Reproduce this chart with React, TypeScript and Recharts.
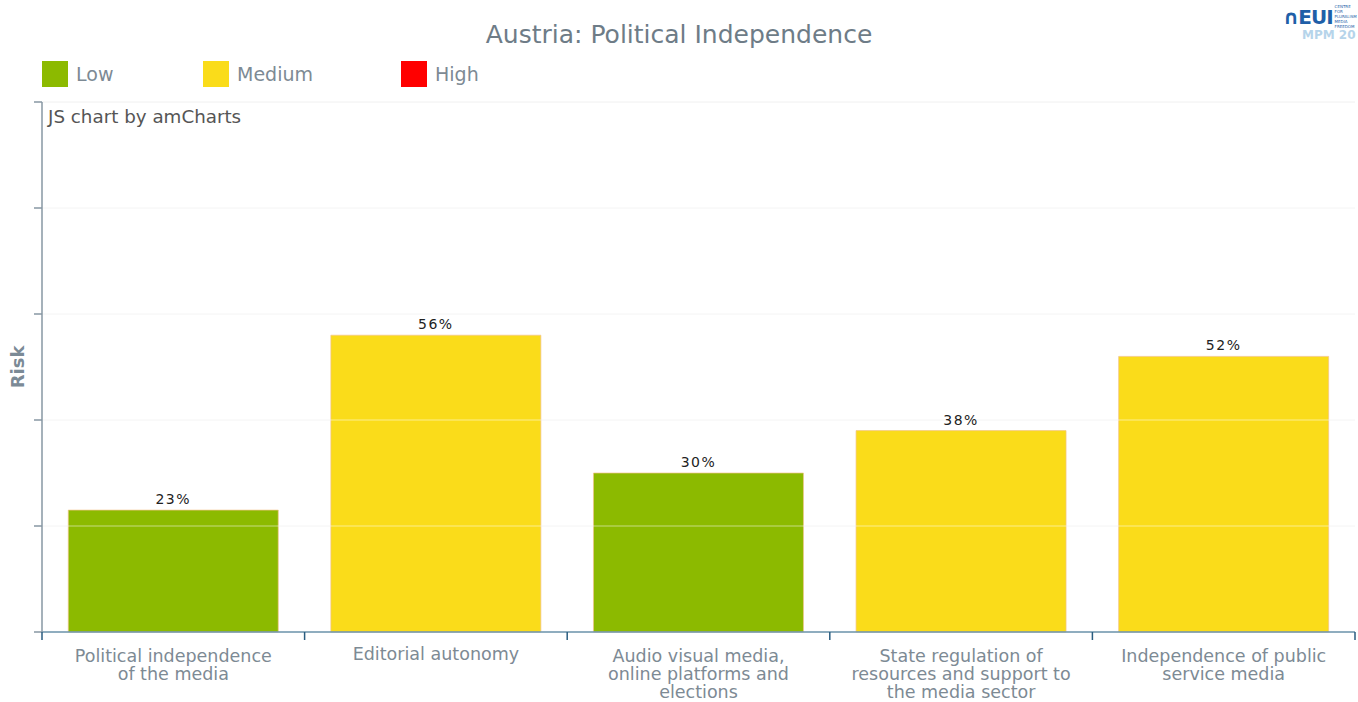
import { Bar, BarChart, CartesianGrid, Cell, LabelList, ReferenceLine, XAxis, YAxis } from 'recharts'

const categories = [
  'Political independence of the media',
  'Editorial autonomy',
  'Audio visual media, online platforms and elections',
  'State regulation of resources and support to the media sector',
  'Independence of public service media',
]
const labelLines = [
  ['Political independence', 'of the media'],
  ['Editorial autonomy'],
  ['Audio visual media,', 'online platforms and', 'elections'],
  ['State regulation of', 'resources and support to', 'the media sector'],
  ['Independence of public', 'service media'],
]
const riskValues = [23, 56, 30, 38, 52]
const riskLevels = ['Low', 'Medium', 'Low', 'Medium', 'Medium']
const legendItems = ['Low', 'Medium', 'High']
const yTicks = [0, 20, 40, 60, 80, 100]

const levelColor: Record<string, string> = {
  Low: '#8cba00',
  Medium: '#fadc1a',
  High: '#ff0000',
}

const data = categories.map((name, i) => ({
  name,
  lines: labelLines[i],
  value: riskValues[i],
  level: riskLevels[i],
}))

const W = 1358
const H = 702
const xAxisH = 70
const margin = { top: 102, right: 3, bottom: 0, left: 34 }
const yAxisW = 8
const band = (W - margin.left - yAxisW - margin.right) / categories.length
const font = '"DejaVu Sans", Verdana, sans-serif'

function CategoryTick(props: any) {
  const { x, y, index } = props
  const lines: string[] = data[index]?.lines ?? []
  const left = x - band / 2
  const right = x + band / 2
  const startY = lines.length === 1 ? y + 28 : y + 30
  return (
    <g>
      <line x1={left} y1={y} x2={left} y2={y + 8} stroke="#2a5d80" strokeWidth={1.5} />
      {index === categories.length - 1 && (
        <line x1={right} y1={y} x2={right} y2={y + 8} stroke="#2a5d80" strokeWidth={1.5} />
      )}
      <text x={x} y={startY} textAnchor="middle" fontSize={17.5} fill="#7d8a94" fontFamily={font}>
        {lines.map((l, i) => (
          <tspan key={i} x={x} dy={i === 0 ? 0 : 18}>
            {l}
          </tspan>
        ))}
      </text>
    </g>
  )
}

const legendX = [42, 203, 401]

export default function App() {
  return (
    <div style={{ position: 'absolute', left: 0, top: 0, width: W, height: H, overflow: 'hidden', background: '#fff', fontFamily: font }}>
      <div style={{ position: 'absolute', left: 0, width: W, top: 20, textAlign: 'center', fontSize: 25, color: '#6e7c87' }}>
        Austria: Political Independence
      </div>
      {legendItems.map((item, i) => (
        <div key={item} style={{ position: 'absolute', left: legendX[i], top: 61, height: 26, display: 'flex', alignItems: 'center' }}>
          <div style={{ width: 26, height: 26, background: levelColor[item] }} />
          <span style={{ marginLeft: 8, fontSize: 19, color: '#7d8a94' }}>{item}</span>
        </div>
      ))}
      <div style={{ position: 'absolute', left: 1283, top: 4, display: 'flex', alignItems: 'center' }}>
        <span style={{ fontSize: 20, fontWeight: 'bold', color: '#1f5fa8', lineHeight: '22px', letterSpacing: -1 }}>∩EUI</span>
        <span style={{ marginLeft: 2, fontSize: 4, color: '#1f5fa8', lineHeight: '5px', width: 22 }}>
          CENTRE FOR PLURALISM MEDIA FREEDOM
        </span>
      </div>
      <div
        style={{
          position: 'absolute',
          left: 1302,
          top: 28,
          fontSize: 12,
          fontWeight: 'bold',
          color: '#b6d4ea',
          lineHeight: '14px',
          whiteSpace: 'nowrap',
        }}
      >
        MPM 20
      </div>
      <div style={{ position: 'absolute', left: 48, top: 106, fontSize: 18.3, color: '#555' }}>JS chart by amCharts</div>
      <div
        style={{
          position: 'absolute',
          left: 17,
          top: 367,
          transform: 'translate(-50%, -50%) rotate(-90deg)',
          fontSize: 18,
          fontWeight: 'bold',
          color: '#7b8a96',
        }}
      >
        Risk
      </div>
      <BarChart width={W} height={H} data={data} margin={margin} barCategoryGap="10%">
        <CartesianGrid vertical={false} stroke="#f0f0f0" />
        <XAxis
          dataKey="name"
          interval={0}
          tickLine={false}
          tickSize={0}
          tickMargin={0}
          height={xAxisH}
          axisLine={{ stroke: '#6d94ad', strokeWidth: 1.5 }}
          tick={<CategoryTick />}
        />
        <YAxis
          domain={[0, 100]}
          ticks={yTicks}
          width={yAxisW}
          tickSize={8}
          tick={() => <g />}
          axisLine={{ stroke: '#8797a3', strokeWidth: 1.5 }}
          tickLine={{ stroke: '#8797a3', strokeWidth: 1.5 }}
        />
        <Bar dataKey="value" isAnimationActive={false} stroke="#f2c38a" strokeOpacity={0.7}>
          {data.map((d) => (
            <Cell key={d.name} fill={levelColor[d.level]} />
          ))}
          <LabelList
            dataKey="value"
            position="top"
            offset={6}
            formatter={(v: any) => `${v}%`}
            style={{ fill: '#222', fontSize: 14, letterSpacing: 1.5, fontFamily: font }}
          />
        </Bar>
        {yTicks.slice(1, -1).map((t) => (
          <ReferenceLine key={t} y={t} stroke="#ffffff" strokeOpacity={0.5} />
        ))}
      </BarChart>
    </div>
  )
}
